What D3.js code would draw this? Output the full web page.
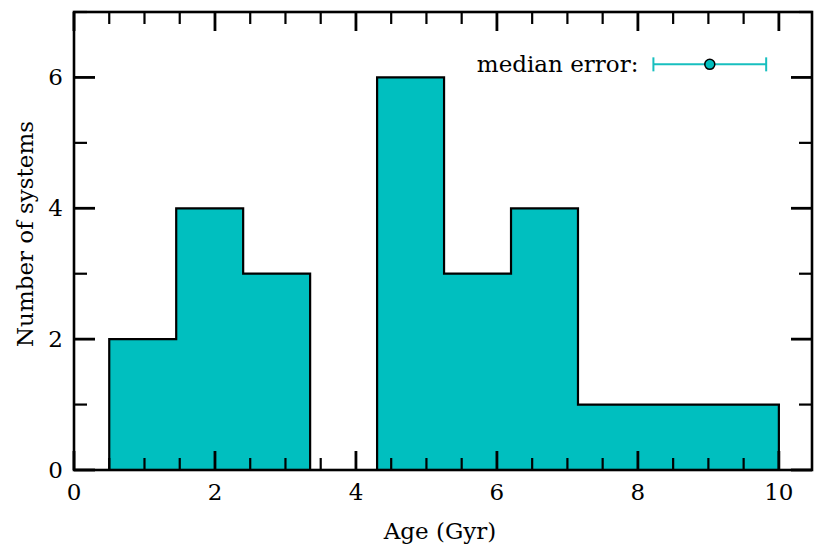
<!DOCTYPE html>
<html>
<head>
<meta charset="utf-8">
<script src="https://cdn.jsdelivr.net/npm/d3@7"></script>
<style>
  body { margin: 0; background: #fff; }
  text { font-family: "DejaVu Serif", "Liberation Serif", serif; fill: #000; }
</style>
</head>
<body>
<div id="wrapper"></div>
<script>
// histogram bins (Gyr) and counts
const binEdges = [0.5, 1.45, 2.4, 3.35, 4.3, 5.25, 6.2, 7.15, 8.1, 9.05, 10.0];
const counts = [2, 4, 3, 0, 6, 3, 4, 1, 1, 1];
const xMajorTicks = [0, 2, 4, 6, 8, 10];
const yMajorTicks = [0, 2, 4, 6];
// median error marker
const medianErr = { x: 9.02, y: 6.2, err: 0.8 };

function build() {
    const dimension = {
        width: 830,
        height: 554,
        margin: { top: 12, right: 18, bottom: 84, left: 74 }
    };
    dimension.boundedWidth = dimension.width - dimension.margin.left - dimension.margin.right;
    dimension.boundedHeight = dimension.height - dimension.margin.top - dimension.margin.bottom;

    const x = d3.scaleLinear().domain([0, 10.47]).range([0, dimension.boundedWidth]);
    const y = d3.scaleLinear().domain([0, 7]).range([dimension.boundedHeight, 0]);

    const svg = d3.select("#wrapper").append("svg")
        .attr("width", dimension.width)
        .attr("height", dimension.height);

    const bounds = svg.append("g")
        .attr("transform", `translate(${dimension.margin.left},${dimension.margin.top})`);

    // step-filled histogram outline
    const pts = [[binEdges[0], 0]];
    counts.forEach((c, i) => {
        pts.push([binEdges[i], c]);
        pts.push([binEdges[i + 1], c]);
    });
    pts.push([binEdges[binEdges.length - 1], 0]);

    bounds.append("path")
        .datum(pts)
        .attr("d", d3.line().x(d => x(d[0])).y(d => y(d[1])))
        .attr("fill", "#00bfbf")
        .attr("stroke", "#000")
        .attr("stroke-width", 2.2)
        .attr("stroke-linejoin", "miter");

    // ticks on all sides, pointing inward
    const xMinor = d3.range(0, 10.47, 0.5);
    const yMinor = d3.range(0, 7.01, 1);
    const tickG = bounds.append("g").attr("stroke", "#000");
    xMinor.forEach(v => {
        const len = xMajorTicks.includes(v) ? 19 : 12;
        const w = xMajorTicks.includes(v) ? 2.8 : 2.2;
        tickG.append("line").attr("x1", x(v)).attr("x2", x(v))
            .attr("y1", dimension.boundedHeight).attr("y2", dimension.boundedHeight - len)
            .attr("stroke-width", w);
        tickG.append("line").attr("x1", x(v)).attr("x2", x(v))
            .attr("y1", 0).attr("y2", len)
            .attr("stroke-width", w);
    });
    yMinor.forEach(v => {
        const len = yMajorTicks.includes(v) ? 21 : 13;
        const w = yMajorTicks.includes(v) ? 2.8 : 2.2;
        tickG.append("line").attr("y1", y(v)).attr("y2", y(v))
            .attr("x1", 0).attr("x2", len)
            .attr("stroke-width", w);
        tickG.append("line").attr("y1", y(v)).attr("y2", y(v))
            .attr("x1", dimension.boundedWidth).attr("x2", dimension.boundedWidth - len)
            .attr("stroke-width", w);
    });

    // frame
    bounds.append("rect")
        .attr("width", dimension.boundedWidth)
        .attr("height", dimension.boundedHeight)
        .attr("fill", "none")
        .attr("stroke", "#000")
        .attr("stroke-width", 2.6);

    // tick labels
    bounds.append("g").selectAll("text")
        .data(xMajorTicks).enter().append("text")
        .attr("x", d => x(d))
        .attr("y", dimension.boundedHeight + 30)
        .attr("text-anchor", "middle")
        .style("font-size", "23px")
        .text(d => d);

    bounds.append("g").selectAll("text")
        .data(yMajorTicks).enter().append("text")
        .attr("x", -11)
        .attr("y", d => y(d) + 8)
        .attr("text-anchor", "end")
        .style("font-size", "23px")
        .text(d => d);

    // axis titles
    svg.append("text")
        .attr("x", 440)
        .attr("y", 539)
        .attr("text-anchor", "middle")
        .style("font-size", "23px")
        .text("Age (Gyr)");

    svg.append("text")
        .attr("transform", "translate(33,234) rotate(-90)")
        .attr("text-anchor", "middle")
        .style("font-size", "23px")
        .text("Number of systems");

    // median error indicator
    const ey = y(medianErr.y);
    const eg = bounds.append("g");
    eg.append("line")
        .attr("x1", x(medianErr.x - medianErr.err)).attr("x2", x(medianErr.x + medianErr.err))
        .attr("y1", ey).attr("y2", ey)
        .attr("stroke", "#17bfbf").attr("stroke-width", 2);
    [medianErr.x - medianErr.err, medianErr.x + medianErr.err].forEach(v => {
        eg.append("line")
            .attr("x1", x(v)).attr("x2", x(v))
            .attr("y1", ey - 7).attr("y2", ey + 7)
            .attr("stroke", "#17bfbf").attr("stroke-width", 2);
    });
    eg.append("circle")
        .attr("cx", x(medianErr.x)).attr("cy", ey).attr("r", 5)
        .attr("fill", "#00bfbf").attr("stroke", "#000").attr("stroke-width", 1.5);

    eg.append("text")
        .attr("x", x(medianErr.x - medianErr.err) - 15)
        .attr("y", ey + 8)
        .attr("text-anchor", "end")
        .style("font-size", "23px")
        .text("median error:");
}
build();
</script>
</body>
</html>
